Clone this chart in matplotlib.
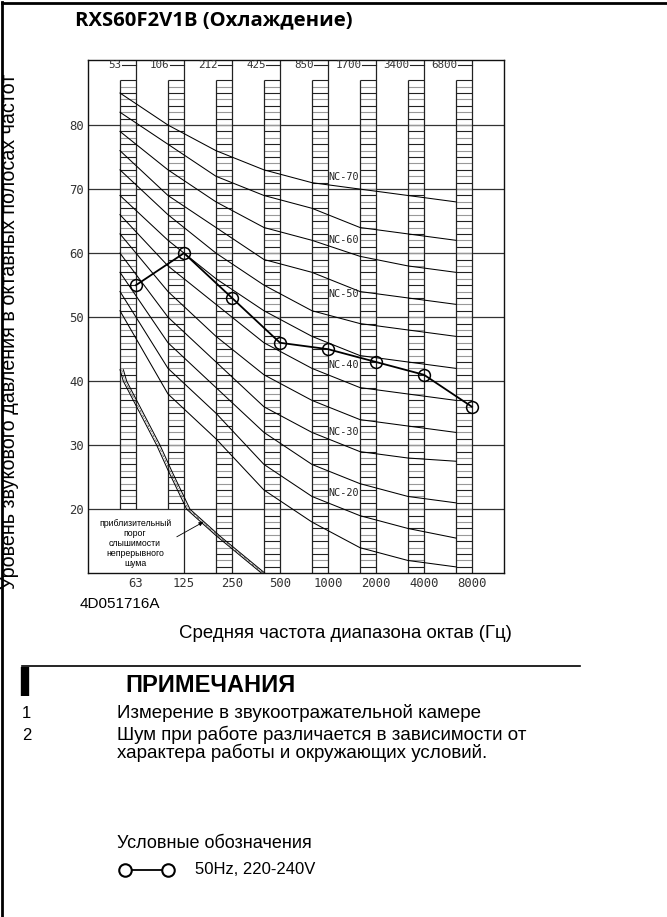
import matplotlib
matplotlib.use('Agg')
import matplotlib.pyplot as plt
import numpy as np
from matplotlib.lines import Line2D

# Octave bands (centre / lower edge) and measured sound pressure levels, dB
bands = ['63', '125', '250', '500', '1000', '2000', '4000', '8000']
band_edges = ['53', '106', '212', '425', '850', '1700', '3400', '6800']
level_50hz = [55, 60, 53, 46, 45, 43, 41, 36]

# NC reference curves, one row per rating, values per octave band
nc_ratings = [70, 65, 60, 55, 50, 45, 40, 35, 30, 25, 20, 15]
nc_levels = [
    [85, 80, 76, 73, 71, 70, 69, 68],
    [82, 77, 72, 69, 67, 64, 63, 62],
    [79, 73, 68, 64, 62, 59.5, 58, 57],
    [76, 69, 64, 59, 57, 54, 53, 52],
    [73, 66, 60, 55, 51, 49, 48, 47],
    [69, 62, 56, 51, 47, 44, 43, 42],
    [66, 58, 52, 46, 42, 39, 38, 37],
    [63, 54, 47, 41, 37, 34, 33, 32],
    [60, 50, 43, 36, 32, 29, 28, 27.5],
    [57, 46, 39, 32, 27, 24, 22, 21],
    [54, 42, 35, 27, 22, 19, 17, 15.5],
    [51, 38, 31, 23, 18, 14, 12, 11],
]
nc_labelled = [70, 60, 50, 40, 30, 20]
nc_label_db = [71.9, 62.0, 53.6, 42.6, 32.1, 22.6]

# approximate threshold of hearing for continuous noise (position in bands, dB)
thr_pos = [-0.333, -0.264, 0.431, 0.673, 1.056, 1.681, 2.619]
thr_db = [41.8, 40, 30, 26, 20, 15.8, 10]

SANS = ['Liberation Sans', 'DejaVu Sans']
MONO = 'DejaVu Sans Mono'

x = np.arange(len(bands))
col_w = 1 / 3          # hatched band columns sit left of each point
y_top = 90.16

fig = plt.figure(figsize=(6.67, 9.17), dpi=100)
ax = fig.add_axes([88 / 667, 1 - 573.3 / 917, 416 / 667, 513.3 / 917])
ax.set_xlim(-1, 7.667)
ax.set_ylim(10, y_top)

# horizontal grid
ax.hlines(range(20, 81, 10), -1, 7.667, color='#333', lw=0.9, zorder=1)

# hatched band columns
for i in x:
    bottom = 20 if i < 2 else 10
    levels = np.arange(bottom + 1, 88)
    cols = ['#222' if lv % 2 else '#999' for lv in levels]
    ax.hlines(levels, i - col_w, i, colors=cols, lw=0.8, zorder=1)
    ax.vlines(i - col_w, bottom, 87, color='#222', lw=0.9, zorder=1)
    ax.vlines(i, bottom, y_top, color='#222', lw=0.9, zorder=1)
    ax.text(i - 0.3, 89.4, band_edges[i], ha='right', va='center',
            family=MONO, fontsize=7.8, color='#333')
    ax.plot([i - 0.3, i], [89.4, 89.4], color='#222', lw=0.8)

# NC curves
for rating, lv in zip(nc_ratings, nc_levels):
    ax.plot(x - col_w, lv, color='k', lw=0.75, zorder=2)
for rating, ydb in zip(nc_labelled, nc_label_db):
    ax.text(4.65, ydb, 'NC-%d' % rating, ha='right', va='center',
            family=MONO, fontsize=7.3, color='#222')

# threshold of hearing band
thr_pos = np.array(thr_pos)
ax.plot(thr_pos, thr_db, color='k', lw=0.7, zorder=2)
ax.plot(thr_pos + 0.035, thr_db, color='#444', lw=0.5,
        ls=(0, (4, 1.5, 1, 1.5)), zorder=2)
ax.plot(thr_pos + 0.07, thr_db, color='k', lw=0.7, zorder=2)

# legend box for the threshold band
ax.vlines(1.0, 10, 20, color='#222', lw=0.9)
ax.text(-0.02, 14.7, 'приблизительный\nпорог\nслышимости\nнепрерывного\nшума',
        ha='center', va='center', fontsize=6.3, linespacing=1.15,
        family=['Liberation Sans Narrow', 'Liberation Sans', 'DejaVu Sans'])
ax.annotate('', xy=(1.40, 18.0), xytext=(0.85, 15.7),
            arrowprops=dict(arrowstyle='-|>', lw=0.6, color='k',
                            mutation_scale=6, shrinkA=0, shrinkB=0))

# measured levels
ax.plot(x, level_50hz, '-o', color='k', lw=1.3, ms=8.5, mfc='none',
        mec='k', mew=1.1, zorder=4)

ax.set_xticks(x)
ax.set_xticklabels(bands, family=MONO, fontsize=8.8, color='#333')
ax.set_yticks(range(20, 81, 10))
ax.set_yticklabels([str(v) for v in range(20, 81, 10)], family=MONO,
                   fontsize=8.8, color='#333')
ax.tick_params(length=0, pad=3)
for s in ax.spines.values():
    s.set_linewidth(1.0)
    s.set_color('#111')

# page frame
fig.add_artist(Line2D([0.003, 0.003], [0, 0.998], transform=fig.transFigure,
                      color='k', lw=2))
fig.add_artist(Line2D([0.003, 1], [0.997, 0.997], transform=fig.transFigure,
                      color='k', lw=2))

H = 917.0
W = 667.0


def ftext(px, py, s, **kw):
    kw.setdefault('family', SANS)
    fig.text(px / W, 1 - py / H, s, **kw)


ftext(75, 20, 'RXS60F2V1B (Охлаждение)', fontsize=14.6, weight='bold',
      family=['Open Sans', 'DejaVu Sans'], va='center')
ftext(10, 331, 'Уровень звукового давления в октавных полосах частот',
      rotation=90, fontsize=14.2, ha='center', va='center')
ftext(80, 604, '4D051716A', fontsize=11, va='center')
ftext(345, 634, 'Средняя частота диапазона октав (Гц)', fontsize=13.4,
      ha='center', va='center')

# notes
fig.add_artist(Line2D([22 / W, 580 / W], [1 - 666 / H, 1 - 666 / H],
                      transform=fig.transFigure, color='k', lw=1.2))
fig.add_artist(Line2D([25 / W, 25 / W], [1 - 667 / H, 1 - 696 / H],
                      transform=fig.transFigure, color='k', lw=6,
                      solid_capstyle='butt'))
ftext(125, 686, 'ПРИМЕЧАНИЯ', fontsize=17, weight='bold', va='center')
ftext(22, 713, '1', fontsize=12, va='center')
ftext(117, 713, 'Измерение в звукоотражательной камере', fontsize=13.5,
      va='center')
ftext(22, 735, '2', fontsize=12, va='center')
ftext(117, 735, 'Шум при работе различается в зависимости от', fontsize=13.5,
      va='center')
ftext(117, 753, 'характера работы и окружающих условий.', fontsize=13.5,
      va='center')

# legend
ftext(117, 843, 'Условные обозначения', fontsize=13, va='center')
fig.add_artist(Line2D([125 / W, 168 / W], [1 - 870 / H, 1 - 870 / H],
                      transform=fig.transFigure, color='k', lw=1.3,
                      marker='o', ms=9, mfc='white', mec='k', mew=1.5))
ftext(195, 870, '50Hz, 220-240V', fontsize=12, va='center')

fig.savefig('out.png', dpi=100)
